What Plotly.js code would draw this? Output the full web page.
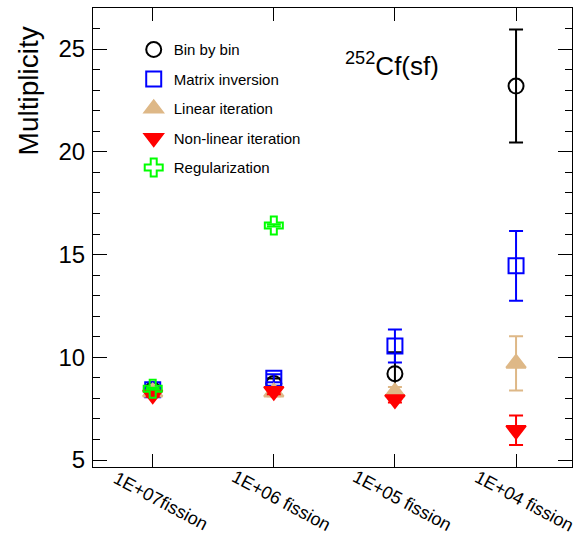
<!DOCTYPE html>
<html>
<head>
<meta charset="utf-8">
<script src="https://cdn.plot.ly/plotly-3.0.1.min.js"></script>
<style>html,body{margin:0;padding:0;background:#fff;}#chart{width:573px;height:540px;}</style>
</head>
<body>
<div id="chart"></div>
<script>
const categories = ["1E+07fission", "1E+06 fission", "1E+05 fission", "1E+04 fission"];
const seriesNames = ["Bin by bin", "Matrix inversion", "Linear iteration", "Non-linear iteration", "Regularization"];
const binByBin = [8.42, 8.72, 9.2, 23.2];
const binByBinErr = [0.1, 0.25, 1.05, 2.75];
const matrixInversion = [8.42, 8.98, 10.55, 14.45];
const matrixInversionErr = [0.1, 0.2, 0.8, 1.7];
const linearIteration = [8.3, 8.3, 8.3, 9.7];
const linearIterationErr = [0.1, 0.2, 0.25, 1.32];
const nonLinearIteration = [8.18, 8.35, 7.95, 6.45];
const nonLinearIterationErr = [0.1, 0.15, 0.15, 0.72];
const regularization = [8.47, 16.42];
const regularizationErr = [0.05, 0.05];
const yTickVals = [5, 10, 15, 20, 25];

const xIdx = categories.map((c, i) => i);
const font = "Liberation Sans, Arial, Helvetica, sans-serif";

function tr(name, x, y, err, color, symbol, size, group) {
  return {
    type: "scatter", mode: "markers", name: name, x: x, y: y,
    legendgroup: group,
    marker: {symbol: symbol, size: size, color: color,
             line: {color: color, width: 2}},
    error_y: {type: "data", array: err, visible: true, color: color, thickness: 2, width: 7},
    cliponaxis: false
  };
}

const data = [
  tr(seriesNames[0], xIdx, binByBin, binByBinErr, "#000000", "circle-open", 15, "g1"),
  tr(seriesNames[1], xIdx, matrixInversion, matrixInversionErr, "#0000ff", "square-open", 15, "g2"),
  tr(seriesNames[2], xIdx, linearIteration, linearIterationErr, "#deb887", "triangle-up", 17, "g3"),
  tr(seriesNames[3], xIdx, nonLinearIteration, nonLinearIterationErr, "#ff0000", "triangle-down", 17, "g4"),
  tr(seriesNames[4], xIdx.slice(0, regularization.length), regularization, regularizationErr, "#00ff00", "cross-open", 15, "g5")
];

const annotations = categories.map((c, i) => ({
  text: c, x: i, xref: "x", y: -0.074, yref: "paper",
  xanchor: "center", yanchor: "middle",
  xshift: 8, showarrow: false, textangle: 28,
  font: {family: font, size: 18, color: "#000"}
}));
annotations.push({
  text: "<sup>252</sup>Cf(sf)", x: 0.624, y: 0.876, xref: "paper", yref: "paper",
  xanchor: "center", yanchor: "middle",
  showarrow: false, font: {family: font, size: 26, color: "#000"}
});
annotations.push({
  text: "Multiplicity", x: -0.134, y: 0.82, xref: "paper", yref: "paper",
  xanchor: "center", yanchor: "middle",
  showarrow: false, textangle: -90, font: {family: font, size: 28, color: "#000"}
});

const layout = {
  width: 573, height: 540,
  margin: {l: 93, r: 1, t: 8, b: 73},
  paper_bgcolor: "#fff", plot_bgcolor: "#fff",
  showlegend: true,
  legend: {x: 0.085, y: 0.945, xanchor: "left", yanchor: "top",
           font: {family: font, size: 15, color: "#000"},
           bgcolor: "rgba(0,0,0,0)", tracegroupgap: 7},
  xaxis: {
    range: [-0.493, 3.462], tickvals: xIdx, showticklabels: false,
    ticks: "inside", ticklen: 13, tickcolor: "#000", tickwidth: 1,
    showgrid: false, zeroline: false, showline: true, linecolor: "#000", linewidth: 1,
    mirror: "ticks"
  },
  yaxis: {
    range: [4.66, 27.0], tickvals: yTickVals,
    ticks: "inside", ticklen: 14, tickcolor: "#000", tickwidth: 1,
    minor: {dtick: 1, ticks: "inside", ticklen: 7, tickcolor: "#000", tickwidth: 1, showgrid: false},
    showgrid: false, zeroline: false, showline: true, linecolor: "#000", linewidth: 1,
    mirror: "ticks", tickfont: {family: font, size: 24, color: "#000"}, ticklabelstandoff: 2
  },
  annotations: annotations
};

Plotly.newPlot("chart", data, layout, {displayModeBar: false, staticPlot: true});
</script>
</body>
</html>
